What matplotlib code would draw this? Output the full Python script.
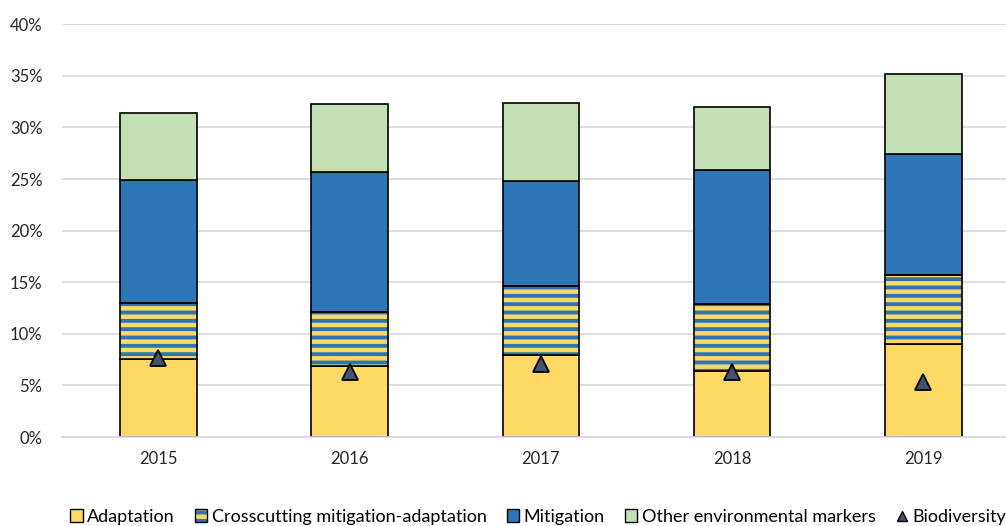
import numpy as np
import matplotlib
matplotlib.use("Agg")
import matplotlib.pyplot as plt
from matplotlib.patches import Patch
from matplotlib.lines import Line2D
from matplotlib.ticker import FuncFormatter

years = ["2015", "2016", "2017", "2018", "2019"]
adaptation = [7.6, 6.9, 8.0, 6.4, 9.0]
crosscutting = [5.35, 5.2, 6.6, 6.5, 6.7]
mitigation = [12.0, 13.6, 10.2, 13.0, 11.7]
other_env = [6.45, 6.6, 7.6, 6.06, 7.8]
biodiversity = [7.7, 6.3, 7.05, 6.3, 5.35]

YELLOW = "#FFD966"
BLUE = "#2E75B6"
GREEN = "#C5E0B4"
SLATE = "#44546A"

plt.rcParams["font.family"] = ["Lato", "DejaVu Sans"]
plt.rcParams["hatch.linewidth"] = 2.8

fig = plt.figure(figsize=(10.06, 5.26), dpi=100)
ax = fig.add_axes([0.0616, 0.169, 0.938, 0.785])

x = np.arange(len(years))
w = 0.40
edge = dict(edgecolor="black", linewidth=1.2)

b1 = np.array(adaptation)
b2 = b1 + np.array(crosscutting)
b3 = b2 + np.array(mitigation)

ax.bar(x, adaptation, w, color=YELLOW, zorder=2, **edge)
# striped crosscutting segment: yellow base, blue hatch, black outline
ax.bar(x, crosscutting, w, bottom=b1, color=YELLOW, linewidth=0, zorder=2)
ax.bar(x, crosscutting, w, bottom=b1, facecolor="none", edgecolor=BLUE,
       hatch="--", linewidth=0, zorder=2)
ax.bar(x, crosscutting, w, bottom=b1, facecolor="none", zorder=3, **edge)
ax.bar(x, mitigation, w, bottom=b2, color=BLUE, zorder=2, **edge)
ax.bar(x, other_env, w, bottom=b3, color=GREEN, zorder=2, **edge)

ax.plot(x, biodiversity, linestyle="none", marker="^", markersize=12,
        markerfacecolor=SLATE, markeredgecolor="black", markeredgewidth=1.3,
        zorder=4)

ax.set_ylim(0, 40)
ax.set_xlim(-0.504, 4.43)
ax.set_yticks(np.arange(0, 41, 5))
ax.yaxis.set_major_formatter(FuncFormatter(lambda v, p: f"{v:.0f}%"))
ax.set_xticks(x)
ax.set_xticklabels(years)
ax.tick_params(axis="both", length=0, labelsize=12, colors="#262626")
ax.tick_params(axis="y", pad=14)
ax.tick_params(axis="x", pad=10)
ax.grid(axis="y", color="#D9D9D9", linewidth=1.2, zorder=0)
for side in ("top", "right", "left"):
    ax.spines[side].set_visible(False)
ax.spines["bottom"].set_color("#D9D9D9")
ax.spines["bottom"].set_linewidth(1.2)

handles = [
    Patch(facecolor=YELLOW, edgecolor="black"),
    (Patch(facecolor=YELLOW, linewidth=0),
     Patch(facecolor="none", edgecolor=BLUE, hatch="--", linewidth=0),
     Patch(facecolor="none", edgecolor="black")),
    Patch(facecolor=BLUE, edgecolor="black"),
    Patch(facecolor=GREEN, edgecolor="black"),
    Line2D([], [], linestyle="none", marker="^", markersize=7,
           markerfacecolor=SLATE, markeredgecolor="black"),
]
labels = ["Adaptation", "Crosscutting mitigation-adaptation", "Mitigation",
          "Other environmental markers", "Biodiversity"]
fig.legend(handles, labels, loc="center", bbox_to_anchor=(0.535, 0.017),
           ncol=5, frameon=False, fontsize=13, handlelength=0.7,
           handleheight=0.7, handletextpad=0.25, columnspacing=1.1)

fig.savefig("out.png", dpi=100)
